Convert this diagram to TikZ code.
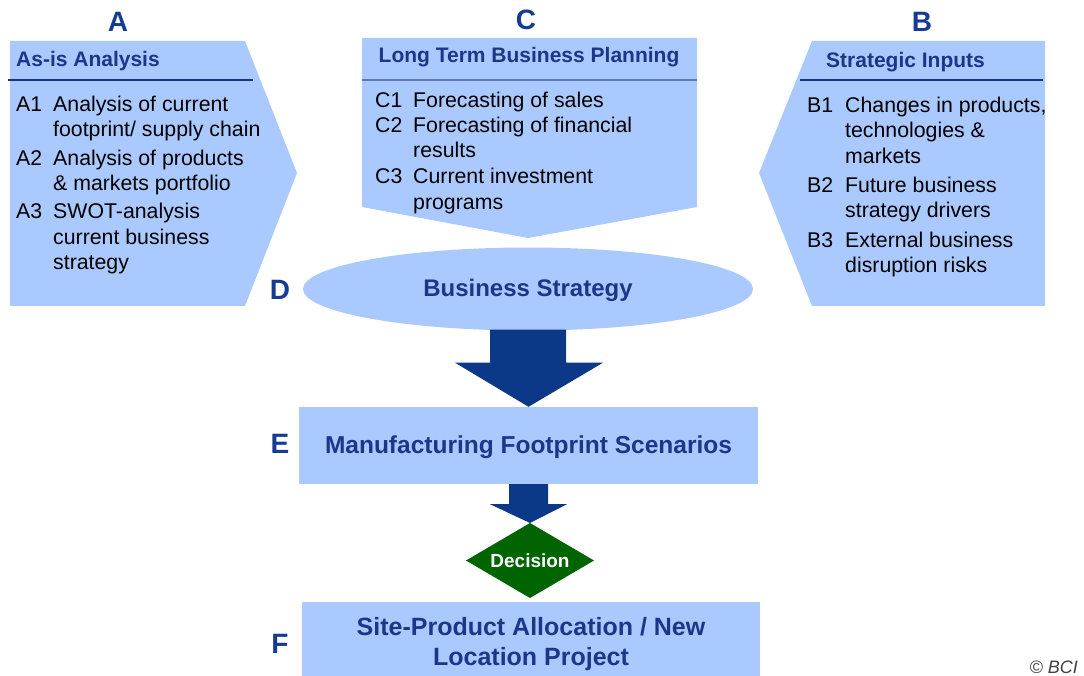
\documentclass[tikz,border=0pt]{standalone}
\usepackage{fontspec}
\setmainfont{Liberation Sans}
\usetikzlibrary{shapes.geometric,calc}
\definecolor{lb}{RGB}{170,201,255}
\definecolor{navy}{RGB}{28,55,138}
\definecolor{lettblue}{RGB}{22,60,145}
\definecolor{arrowblue}{RGB}{12,56,136}
\definecolor{divblue}{RGB}{25,50,125}
\definecolor{divgrey}{RGB}{95,120,175}
\definecolor{decgreen}{RGB}{0,100,0}
\newcommand{\itemfnt}{\fontsize{21.3}{25}\selectfont}
\begin{document}
\begin{tikzpicture}[x=1pt,y=-1pt,
  itemtxt/.style={anchor=base west, inner sep=0pt, font=\itemfnt, text=black},
  titletxt/.style={inner sep=0pt, font=\bfseries\fontsize{21}{25}\selectfont, text=navy},
  letter/.style={anchor=base, inner sep=0pt, font=\bfseries\fontsize{28}{28}\selectfont, text=lettblue},
  bigtxt/.style={font=\bfseries\fontsize{25}{30}\selectfont, text=navy},
  boxfill/.style={fill=lb, draw=none},
  blockarrow/.style={fill=arrowblue, draw=none}]
\useasboundingbox (0,0) rectangle (1084,676);

% ---- Box A ----
\fill[lb] (10,41) -- (245,41) -- (297,173) -- (245,306) -- (10,306) -- cycle;
\draw[divblue, line width=1.3pt] (8,80) -- (253,80);
\node[titletxt, anchor=base west] (Atitle) at (16,67) {As-is Analysis};
\node[itemtxt] (A1) at (16,112) {A1};
\node[itemtxt] (A1a) at (53,112) {Analysis of current};
\node[itemtxt] (A1b) at (53,137) {footprint/ supply chain};
\node[itemtxt] (A2) at (16,166) {A2};
\node[itemtxt] (A2a) at (53,166) {Analysis of products};
\node[itemtxt] (A2b) at (53,191) {\& markets portfolio};
\node[itemtxt] (A3) at (16,219) {A3};
\node[itemtxt] (A3a) at (53,219) {SWOT-analysis};
\node[itemtxt] (A3b) at (53,245) {current business};
\node[itemtxt] (A3c) at (53,270) {strategy};
\node[letter] (LA) at (118,32) {A};

% ---- Box C ----
\fill[lb] (362,38) -- (697,38) -- (697,207) -- (528,238) -- (362,207) -- cycle;
\draw[divgrey, line width=1.8pt] (362,80) -- (697,80);
\node[titletxt, anchor=base] (Ctitle) at (529,63) {Long Term Business Planning};
\node[itemtxt] (C1) at (375,108) {C1};
\node[itemtxt] (C1a) at (413,108) {Forecasting of sales};
\node[itemtxt] (C2) at (375,133) {C2};
\node[itemtxt] (C2a) at (413,133) {Forecasting of financial};
\node[itemtxt] (C2b) at (413,158) {results};
\node[itemtxt] (C3) at (375,184) {C3};
\node[itemtxt] (C3a) at (413,184) {Current investment};
\node[itemtxt] (C3b) at (413,210) {programs};
\node[letter] (LC) at (526,30) {C};

% ---- Box B ----
\fill[lb] (812,41) -- (1045,41) -- (1045,306) -- (812,306) -- (759,173) -- cycle;
\draw[divblue, line width=1.3pt] (800,80) -- (1043,80);
\node[titletxt, anchor=base west] (Btitle) at (826,68) {Strategic Inputs};
\node[itemtxt] (B1) at (807,113) {B1};
\node[itemtxt] (B1a) at (845,113) {Changes in products,};
\node[itemtxt] (B1b) at (845,138) {technologies \&};
\node[itemtxt] (B1c) at (845,164) {markets};
\node[itemtxt] (B2) at (807,193) {B2};
\node[itemtxt] (B2a) at (845,193) {Future business};
\node[itemtxt] (B2b) at (845,218) {strategy drivers};
\node[itemtxt] (B3) at (807,248) {B3};
\node[itemtxt] (B3a) at (845,248) {External business};
\node[itemtxt] (B3b) at (845,273) {disruption risks};
\node[letter] (LB) at (922,32) {B};

% ---- D: Business Strategy ----
\node[ellipse, boxfill, minimum width=450pt, minimum height=83pt, inner sep=0pt] (D) at (528,289) {};
\node[bigtxt, anchor=base, inner sep=0pt, font=\bfseries\fontsize{24}{28}\selectfont] (Dtext) at (528,297) {Business Strategy};
\node[letter] (LD) at (280,300) {D};

% ---- E ----
\node[rectangle, boxfill, minimum width=459pt, minimum height=77pt, inner sep=0pt] (E) at (528.5,445.5) {};
\node[bigtxt, anchor=base, inner sep=0pt, font=\bfseries\fontsize{24.5}{28}\selectfont] (Etext) at (528.5,453) {Manufacturing Footprint Scenarios};
\node[letter] (LE) at (280,453) {E};

% ---- Decision ----
\node[diamond, aspect=1.7, fill=decgreen, draw=none, minimum width=128pt, minimum height=75pt, inner sep=0pt, outer sep=0pt,
      text=white, font=\bfseries\fontsize{19}{22}\selectfont] (dec) at (530,560.5) {Decision};

% ---- F ----
\node[rectangle, boxfill, minimum width=458pt, minimum height=76pt, inner sep=0pt] (F) at (531,640) {};
\node[bigtxt, anchor=base, inner sep=0pt] (Ft1) at (531,635) {Site-Product Allocation / New};
\node[bigtxt, anchor=base, inner sep=0pt] (Ft2) at (531,665) {Location Project};
\node[letter] (LF) at (280,653) {F};

% ---- block arrows ----
\fill[blockarrow] ($(D.south)+(-38,-1)$) -- ($(D.south)+(38,-1)$) -- ($(D.south)+(38,32)$)
  -- ($(D.south)+(75,32)$) -- (E.north) -- ($(D.south)+(-73,32)$) -- ($(D.south)+(-38,32)$) -- cycle;
\fill[blockarrow] ($(E.south)+(-19.5,0)$) -- ($(E.south)+(19.5,0)$) -- ($(E.south)+(19.5,20)$)
  -- ($(E.south)+(38.5,20)$) -- (dec.north) -- ($(E.south)+(-38.5,20)$) -- ($(E.south)+(-19.5,20)$) -- cycle;

% ---- copyright ----
\node[anchor=base east, inner sep=0pt, font=\itshape\fontsize{18}{20}\selectfont, text=black!75] (copy) at (1078,673) {© BCI};
\end{tikzpicture}
\end{document}
